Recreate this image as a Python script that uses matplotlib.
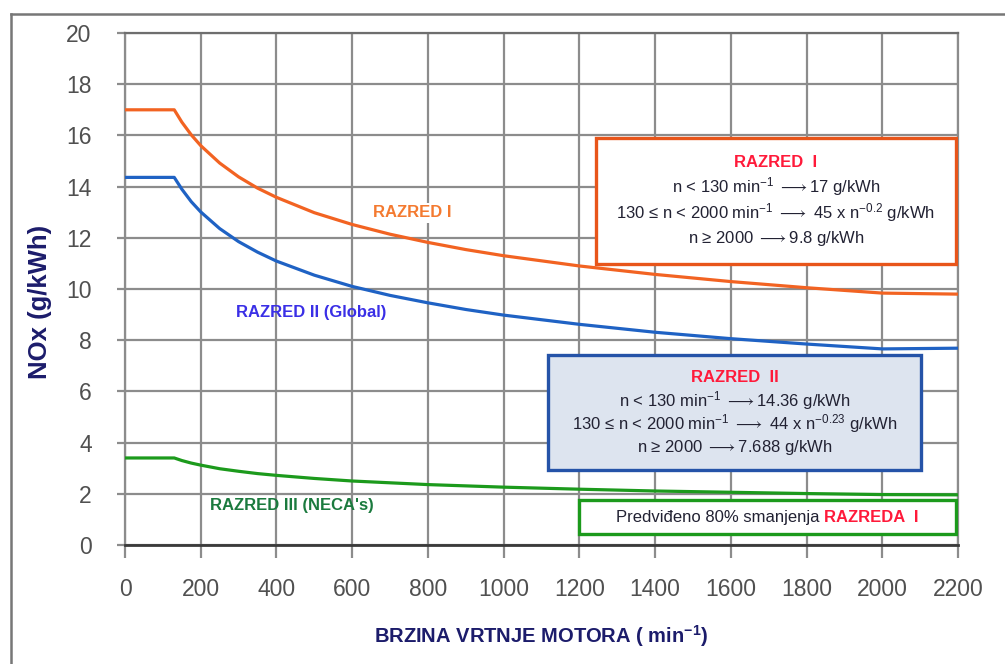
import matplotlib
matplotlib.use("Agg")
import matplotlib.pyplot as plt
from matplotlib.lines import Line2D
from matplotlib.patches import Rectangle

plt.rcParams["font.family"] = ["Liberation Sans", "DejaVu Sans"]
plt.rcParams["mathtext.fontset"] = "custom"
plt.rcParams["mathtext.rm"] = "Liberation Sans"
plt.rcParams["mathtext.it"] = "Liberation Sans"
plt.rcParams["mathtext.bf"] = "Liberation Sans:bold"
plt.rcParams["mathtext.fallback"] = "stixsans"

# engine speed (min^-1) and NOx limits (g/kWh)
speed = [0, 130, 150, 175, 200, 250, 300, 350, 400, 500, 600, 700, 800, 900,
         1000, 1200, 1400, 1600, 1800, 2000, 2200]
tier1 = [17.0, 17.0, 16.52, 16.02, 15.6, 14.92, 14.38, 13.94, 13.58, 12.98, 12.52,
         12.14, 11.82, 11.54, 11.30, 10.90, 10.57, 10.29, 10.05, 9.84, 9.8]
tier2 = [14.36, 14.36, 13.90, 13.41, 13.01, 12.36, 11.85, 11.44, 11.09, 10.54, 10.10,
         9.75, 9.46, 9.20, 8.98, 8.62, 8.31, 8.06, 7.85, 7.66, 7.688]
tier3 = [3.4, 3.4, 3.30, 3.20, 3.12, 2.98, 2.88, 2.79, 2.72, 2.60, 2.50,
         2.43, 2.36, 2.31, 2.26, 2.18, 2.11, 2.06, 2.01, 1.97, 1.96]

x_ticks = list(range(0, 2201, 200))
y_ticks = list(range(0, 21, 2))

NAVY = "#1c1c6b"
GRID = "#8c8c8c"
TXT = "#222233"
RED = "#ff1a3a"
ARROW = r"$\longrightarrow$"

fig = plt.figure(figsize=(10.05, 6.64), dpi=100)
ax = fig.add_axes([0.1244, 0.1792, 0.8289, 0.7711])

ax.plot(speed, tier1, color="#f26322", lw=2.3, zorder=3)
ax.plot(speed, tier2, color="#1f62c4", lw=2.3, zorder=3)
ax.plot(speed, tier3, color="#1c9a1c", lw=2.3, zorder=3)

ax.set_xlim(0, 2200)
ax.set_ylim(0, 20)
ax.set_xticks(x_ticks)
ax.set_yticks(y_ticks)
ax.grid(True, color=GRID, lw=1.6, zorder=0)
ax.set_axisbelow(True)
ax.tick_params(axis="x", length=9, width=1.6, color=GRID, pad=15, labelsize=16.5, labelcolor="#505050")
ax.tick_params(axis="y", length=6, width=1.6, color=GRID, pad=18, labelsize=16.5, labelcolor="#505050")
for side in ("left", "right", "top"):
    ax.spines[side].set_color(GRID)
    ax.spines[side].set_linewidth(1.6)
ax.spines["top"].set_color("#6e6e6e")
ax.spines["bottom"].set_color("#3a3a3a")
ax.spines["bottom"].set_linewidth(2)

ax.set_ylabel("NOx (g/kWh)", fontsize=18.5, fontweight="bold", color=NAVY)
ax.yaxis.set_label_coords(-0.088, 0.475)
ax.set_xlabel("BRZINA VRTNJE MOTORA ( min$^{\\mathbf{-1}}$)", fontsize=14.5, fontweight="bold", color=NAVY)
ax.xaxis.set_label_coords(0.5, -0.152)

# curve labels
ax.text(655, 12.97, "RAZRED I", color="#f47a30", fontsize=12, fontweight="bold", va="center",
        bbox=dict(facecolor="white", edgecolor="none", pad=2), zorder=4)
ax.text(293, 9.1, "RAZRED II (Global)", color="#3a2fe6", fontsize=12, fontweight="bold", va="center", zorder=4)
ax.text(224, 1.56, "RAZRED III (NECA's)", color="#1b7a3e", fontsize=12, fontweight="bold", va="center", zorder=4)

# RAZRED I box
ax.add_patch(Rectangle((1244, 10.98), 951, 4.92, facecolor="white", edgecolor="#e8551a", lw=2.4, zorder=5))
ax.text(1719, 14.96, "RAZRED  I", color=RED, fontsize=12, fontweight="bold", ha="center", va="center", zorder=6)
ax.text(1719, 14.02, f"n < 130 min$^{{-1}}$ {ARROW}17 g/kWh", color=TXT, fontsize=12,
        ha="center", va="center", zorder=6)
ax.text(1719, 13.0, f"130 ≤ n < 2000 min$^{{-1}}$ {ARROW} 45 x n$^{{-0.2}}$ g/kWh", color=TXT, fontsize=12,
        ha="center", va="center", zorder=6)
ax.text(1719, 11.99, f"n ≥ 2000 {ARROW}9.8 g/kWh", color=TXT, fontsize=12, ha="center", va="center", zorder=6)

# RAZRED II box
ax.add_patch(Rectangle((1117, 2.93), 985, 4.49, facecolor="#dde4ef", edgecolor="#2553a8", lw=2.4, zorder=5))
ax.text(1611, 6.56, "RAZRED  II", color=RED, fontsize=12, fontweight="bold", ha="center", va="center", zorder=6)
ax.text(1611, 5.63, f"n < 130 min$^{{-1}}$ {ARROW}14.36 g/kWh", color=TXT, fontsize=12,
        ha="center", va="center", zorder=6)
ax.text(1611, 4.73, f"130 ≤ n < 2000 min$^{{-1}}$ {ARROW} 44 x n$^{{-0.23}}$ g/kWh", color=TXT, fontsize=12,
        ha="center", va="center", zorder=6)
ax.text(1611, 3.79, f"n ≥ 2000 {ARROW}7.688 g/kWh", color=TXT, fontsize=12, ha="center", va="center", zorder=6)

# RAZRED III box
ax.add_patch(Rectangle((1199, 0.43), 996, 1.33, facecolor="white", edgecolor="#1c9a1c", lw=2.4, zorder=5))
ax.text(1833, 1.09, "Predviđeno 80% smanjenja", color=TXT, fontsize=12, ha="right", va="center", zorder=6)
ax.text(1847, 1.09, "RAZREDA  I", color=RED, fontsize=12, fontweight="bold", ha="left", va="center", zorder=6)

# outer frame of the original slide
fig.add_artist(Line2D([0.011, 1.0], [0.979, 0.979], color="#777777", lw=1.8))
fig.add_artist(Line2D([0.011, 0.011], [0.0, 0.979], color="#777777", lw=1.8))

fig.savefig("out.png", dpi=100)
